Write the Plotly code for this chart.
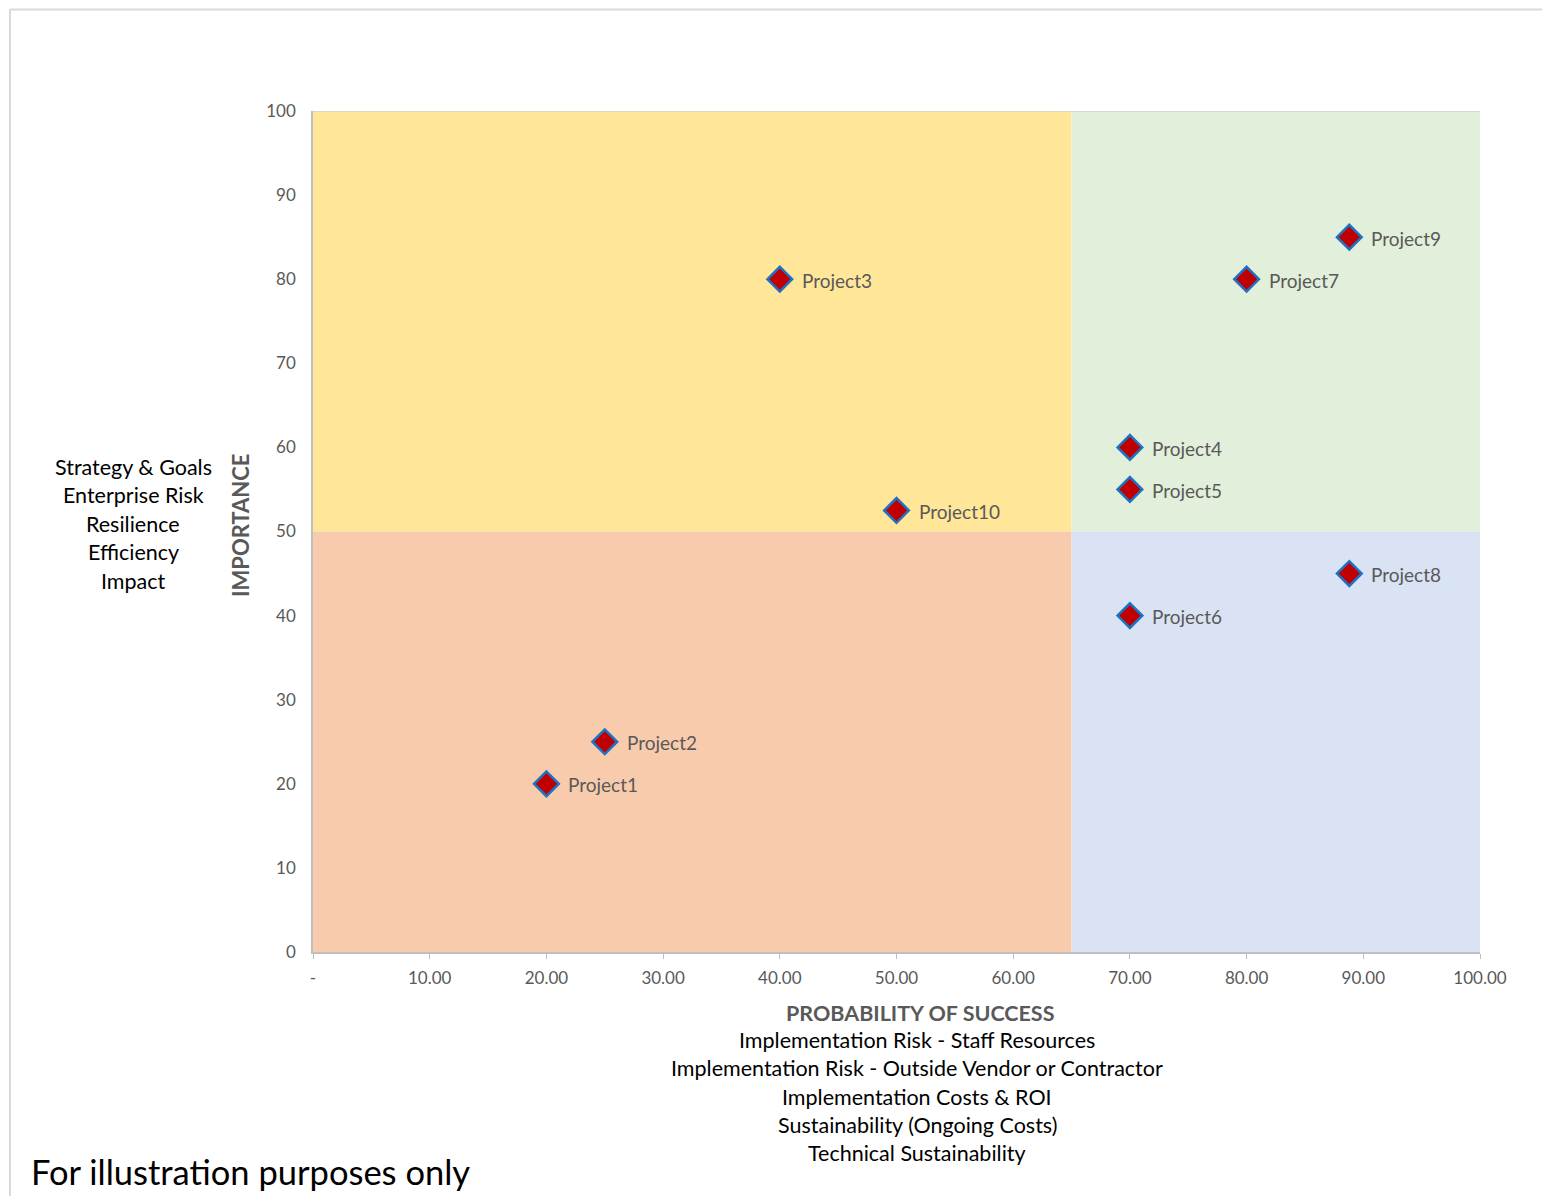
import plotly.graph_objects as go

# ---- data ----
projects = ["Project1", "Project2", "Project3", "Project4", "Project5",
            "Project6", "Project7", "Project8", "Project9", "Project10"]
probability = [20, 25, 40, 70, 70, 70, 80, 88.8, 88.8, 50]
importance = [20, 25, 80, 60, 55, 40, 80, 45, 85, 52.5]

x_split = 65
y_split = 50
x_range = [0, 100]
y_range = [0, 100]

x_tickvals = [0, 10, 20, 30, 40, 50, 60, 70, 80, 90, 100]
x_ticktext = ["-", "10.00", "20.00", "30.00", "40.00", "50.00", "60.00",
              "70.00", "80.00", "90.00", "100.00"]
y_tickvals = [0, 10, 20, 30, 40, 50, 60, 70, 80, 90, 100]

x_title = "PROBABILITY OF SUCCESS"
x_sub_lines = ["Implementation Risk - Staff Resources",
               "Implementation Risk - Outside Vendor or Contractor",
               "Implementation Costs & ROI",
               "Sustainability (Ongoing Costs)",
               "Technical Sustainability"]
y_title = "IMPORTANCE"
y_side_lines = ["Strategy & Goals", "Enterprise Risk", "Resilience",
                "Efficiency", "Impact"]
footnote = "For illustration purposes only"

# ---- layout geometry (pixels, in screenshot coordinates) ----
W, H = 1550, 1196
OFF = 8  # page body offset
L, R, T, B = 313, 1480, 111, 952


def px(x):
    return (x - L) / (R - L)


def py(y):
    return (B - y) / (B - T)


FONT = "Lato"
GRAY = "#595959"

fig = go.Figure()

fig.add_trace(go.Scatter(
    x=probability, y=importance, mode="markers",
    marker=dict(symbol="diamond", size=19, color="#C00000",
                line=dict(color="#1C72C4", width=2.5)),
    hoverinfo="text", text=projects, showlegend=False, cliponaxis=False,
))

shapes = [
    # quadrants
    dict(type="rect", xref="x", yref="y", x0=x_range[0], x1=x_split, y0=y_split, y1=y_range[1],
         fillcolor="#FFE699", line_width=0, layer="below"),
    dict(type="rect", xref="x", yref="y", x0=x_split, x1=x_range[1], y0=y_split, y1=y_range[1],
         fillcolor="#E2EFDA", line_width=0, layer="below"),
    dict(type="rect", xref="x", yref="y", x0=x_range[0], x1=x_split, y0=y_range[0], y1=y_split,
         fillcolor="#F8CBAD", line_width=0, layer="below"),
    dict(type="rect", xref="x", yref="y", x0=x_split, x1=x_range[1], y0=y_range[0], y1=y_split,
         fillcolor="#DAE3F3", line_width=0, layer="below"),
    # top border of plot area
    dict(type="line", xref="x", yref="y", x0=x_range[0], x1=x_range[1], y0=y_range[1], y1=y_range[1],
         line=dict(color="#D0D0D0", width=1.5)),
    # outer chart frame (left + top)
    dict(type="line", xref="paper", yref="paper", x0=px(10), x1=px(10), y0=py(1210), y1=py(9),
         line=dict(color="#D9D9D9", width=2)),
    dict(type="line", xref="paper", yref="paper", x0=px(10), x1=px(1570), y0=py(9.5), y1=py(9.5),
         line=dict(color="#D9D9D9", width=2)),
]

annotations = []
for name, xv, yv in zip(projects, probability, importance):
    annotations.append(dict(x=xv, y=yv, xref="x", yref="y", text=name, showarrow=False,
                            xanchor="left", yanchor="middle", xshift=20, yshift=-1,
                            font=dict(family=FONT, size=19, color=GRAY)))

annotations.append(dict(x=px(920), y=py(1013), xref="paper", yref="paper", text="<b>" + x_title + "</b>",
                        showarrow=False, xanchor="center", yanchor="middle",
                        font=dict(family=FONT, size=21.5, color=GRAY)))
for i, line in enumerate(x_sub_lines):
    annotations.append(dict(x=px(917), y=py(1040 + i * 28.3), xref="paper", yref="paper", text=line,
                            showarrow=False, xanchor="center", yanchor="middle",
                            font=dict(family=FONT, size=21.5, color="#000000")))
annotations.append(dict(x=px(240), y=py(525), xref="paper", yref="paper", text="<b>" + y_title + "</b>",
                        showarrow=False, xanchor="center", yanchor="middle", textangle=-90,
                        font=dict(family=FONT, size=22, color=GRAY)))
for i, line in enumerate(y_side_lines):
    annotations.append(dict(x=px(133), y=py(467 + i * 28.4), xref="paper", yref="paper", text=line,
                            showarrow=False, xanchor="center", yanchor="middle",
                            font=dict(family=FONT, size=21.5, color="#000000")))
annotations.append(dict(x=px(29), y=py(1171), xref="paper", yref="paper", text=footnote,
                        showarrow=False, xanchor="left", yanchor="middle",
                        font=dict(family=FONT, size=34.5, color="#000000")))

fig.update_layout(
    width=W, height=H,
    margin=dict(l=L - OFF, r=W - R + OFF, t=T - OFF, b=H - B + OFF, pad=0),
    paper_bgcolor="white", plot_bgcolor="white",
    shapes=shapes, annotations=annotations,
    showlegend=False,
    xaxis=dict(range=x_range, tickvals=x_tickvals, ticktext=x_ticktext,
               showgrid=False, zeroline=False, showline=True, linecolor="#BFBFBF", linewidth=1.5,
               ticks="outside", ticklen=5, tickcolor="#BFBFBF", ticklabelstandoff=5,
               tickfont=dict(family=FONT, size=17, color=GRAY), fixedrange=True),
    yaxis=dict(range=y_range, tickvals=y_tickvals,
               showgrid=False, zeroline=False, showline=True, linecolor="#BFBFBF", linewidth=1.5,
               ticks="", ticklabelstandoff=12,
               tickfont=dict(family=FONT, size=17, color=GRAY), fixedrange=True),
)

fig.write_html("out.html")
